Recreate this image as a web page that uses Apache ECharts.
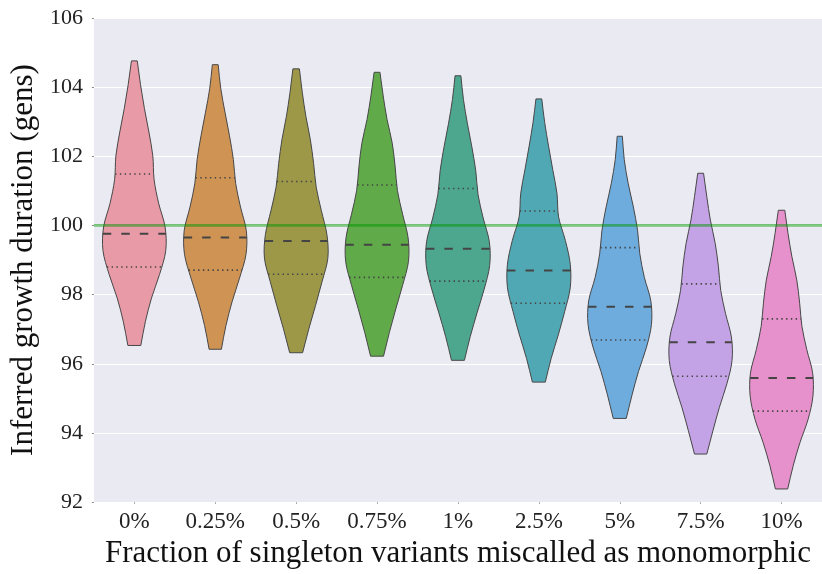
<!DOCTYPE html>
<html>
<head>
<meta charset="utf-8">
<script src="https://cdn.jsdelivr.net/npm/echarts@6/dist/echarts.min.js"></script>
<style>
  html, body { margin: 0; padding: 0; background: #ffffff; }
  #chart { width: 822px; height: 574px; }
</style>
</head>
<body>
<div id="chart"></div>
<script>
// ---- data ----
const categories = ['0%', '0.25%', '0.5%', '0.75%', '1%', '2.5%', '5%', '7.5%', '10%'];
const minVals    = [96.53, 96.42, 96.32, 96.22, 96.10, 95.47, 94.42, 93.39, 92.38];
const q1Vals     = [98.80, 98.71, 98.59, 98.50, 98.39, 97.75, 96.69, 95.64, 94.63];
const medianVals = [99.76, 99.65, 99.55, 99.44, 99.33, 98.70, 97.65, 96.62, 95.59];
const q3Vals     = [101.49, 101.38, 101.27, 101.17, 101.07, 100.42, 99.36, 98.31, 97.30];
const maxVals    = [104.76, 104.65, 104.53, 104.43, 104.33, 103.66, 102.58, 101.51, 100.44];
// relative half-widths of each violin, sampled evenly from its min (first) to its max (last)
const profile0   = [0.20, 0.34, 0.53, 0.78, 0.97, 0.95, 0.75, 0.61, 0.57, 0.45, 0.31, 0.19, 0.09];
const profile025 = [0.19, 0.33, 0.52, 0.75, 0.95, 0.96, 0.78, 0.63, 0.56, 0.44, 0.30, 0.17, 0.09];
const profile05  = [0.20, 0.39, 0.60, 0.80, 0.98, 0.95, 0.78, 0.62, 0.54, 0.44, 0.30, 0.19, 0.10];
const profile075 = [0.20, 0.38, 0.58, 0.79, 0.97, 0.96, 0.79, 0.63, 0.56, 0.47, 0.31, 0.19, 0.09];
const profile1   = [0.20, 0.38, 0.59, 0.81, 0.98, 0.97, 0.78, 0.62, 0.55, 0.43, 0.29, 0.17, 0.09];
const profile25  = [0.20, 0.38, 0.60, 0.80, 0.97, 0.97, 0.82, 0.61, 0.56, 0.43, 0.30, 0.18, 0.09];
const profile5   = [0.20, 0.38, 0.58, 0.82, 0.98, 0.96, 0.76, 0.62, 0.55, 0.42, 0.26, 0.14, 0.08];
const profile75  = [0.19, 0.38, 0.58, 0.81, 0.97, 0.95, 0.77, 0.62, 0.55, 0.45, 0.30, 0.19, 0.09];
const profile10  = [0.19, 0.36, 0.57, 0.82, 0.97, 0.96, 0.78, 0.63, 0.56, 0.47, 0.32, 0.20, 0.10];
const widthProfiles = [profile0, profile025, profile05, profile075, profile1, profile25, profile5, profile75, profile10];
const referenceValue = 100;
const yMin = 92, yMax = 106, yStep = 2;
const colors = ['#e89aa6', '#cf9454', '#9c9848', '#60aa4a', '#4ca78e', '#50a8b4', '#6eacde', '#c4a2e6', '#e690cc'];

// ---- helpers (rendering geometry only) ----
function crPoint(P, j) {
  const n = P.length;
  if (j < 0) return [2 * P[0][0] - P[1][0], 2 * P[0][1] - P[1][1]];
  if (j >= n) return [2 * P[n - 1][0] - P[n - 2][0], 2 * P[n - 1][1] - P[n - 2][1]];
  return P[j];
}
function crPath(P, start) {
  let d = start ? ('M' + P[0][0] + ',' + P[0][1]) : ('L' + P[0][0] + ',' + P[0][1]);
  for (let j = 0; j < P.length - 1; j++) {
    const p0 = crPoint(P, j - 1), p1 = P[j], p2 = P[j + 1], p3 = crPoint(P, j + 2);
    const c1 = [p1[0] + (p2[0] - p0[0]) / 6, p1[1] + (p2[1] - p0[1]) / 6];
    const c2 = [p2[0] - (p3[0] - p1[0]) / 6, p2[1] - (p3[1] - p1[1]) / 6];
    d += 'C' + c1[0] + ',' + c1[1] + ',' + c2[0] + ',' + c2[1] + ',' + p2[0] + ',' + p2[1];
  }
  return d;
}
function crEval(arr, t) {
  const n = arr.length;
  const get = (k) => k < 0 ? 2 * arr[0] - arr[1] : (k >= n ? 2 * arr[n - 1] - arr[n - 2] : arr[k]);
  let j = Math.floor(t);
  if (j >= n - 1) j = n - 2;
  if (j < 0) j = 0;
  const u = t - j;
  const a = get(j - 1), b = get(j), c = get(j + 1), e = get(j + 2);
  return 0.5 * (2 * b + (-a + c) * u + (2 * a - 5 * b + 4 * c - e) * u * u + (-a + 3 * b - 3 * c + e) * u * u * u);
}

const violinData = categories.map((c, i) => [i, minVals[i], q1Vals[i], medianVals[i], q3Vals[i], maxVals[i]]);

function renderViolin(params, api) {
  const i = api.value(0);
  const lo = api.value(1), q1 = api.value(2), med = api.value(3), q3 = api.value(4), hi = api.value(5);
  const prof = widthProfiles[i];
  const n = prof.length;
  const center = api.coord([i, lo])[0];
  const halfMax = api.size([1, 0])[0] * 0.4;
  const right = [], left = [];
  for (let k = 0; k < n; k++) {
    const v = lo + (hi - lo) * k / (n - 1);
    const y = api.coord([i, v])[1];
    right.push([center + prof[k] * halfMax, y]);
  }
  for (let k = n - 1; k >= 0; k--) {
    left.push([2 * center - right[k][0], right[k][1]]);
  }
  const pathData = crPath(right, true) + crPath(left, false) + 'Z';
  const children = [{
    type: 'path',
    shape: { pathData: pathData },
    style: { fill: colors[i], stroke: '#474747', lineWidth: 1 }
  }];
  function qLine(q, dash, lw) {
    const t = (q - lo) / (hi - lo) * (n - 1);
    const w = crEval(prof, t) * halfMax;
    const y = api.coord([i, q])[1];
    return {
      type: 'line',
      shape: { x1: center - w, y1: y, x2: center + w, y2: y },
      style: { stroke: '#444444', lineWidth: lw, lineDash: dash, lineCap: 'butt' }
    };
  }
  children.push(qLine(q1, [1.4, 3.4], 1.6));
  children.push(qLine(q3, [1.4, 3.4], 1.6));
  children.push(qLine(med, [8.5, 10], 2));
  return { type: 'group', children: children };
}

function renderRef(params, api) {
  const cs = params.coordSys;
  const y = api.coord([0, api.value(0)])[1];
  return {
    type: 'line',
    shape: { x1: cs.x, y1: y, x2: cs.x + cs.width, y2: y },
    style: { stroke: 'rgba(0,150,0,0.5)', lineWidth: 2.8 }
  };
}

const chart = echarts.init(document.getElementById('chart'), null, { renderer: 'canvas' });
chart.setOption({
  animation: false,
  backgroundColor: '#ffffff',
  grid: {
    left: 92, top: 18, width: 738, height: 487,
    show: true, backgroundColor: '#eaeaf2', borderWidth: 0
  },
  xAxis: {
    type: 'category',
    data: categories,
    boundaryGap: true,
    axisLine: { show: false },
    axisTick: { show: true, alignWithLabel: true, length: 2, lineStyle: { color: '#aaaaaa' } },
    axisLabel: { color: '#222222', fontFamily: 'Liberation Serif', fontSize: 23, margin: 8 },
    splitLine: { show: false },
    name: 'Fraction of singleton variants miscalled as monomorphic',
    nameLocation: 'middle',
    nameGap: 34,
    nameTextStyle: { color: '#111111', fontFamily: 'Liberation Serif', fontSize: 31 }
  },
  yAxis: {
    type: 'value',
    min: yMin, max: yMax, interval: yStep,
    axisLine: { show: false },
    axisTick: { show: true, length: 2, lineStyle: { color: '#888888' } },
    axisLabel: { color: '#222222', fontFamily: 'Liberation Serif', fontSize: 22, margin: 11 },
    splitLine: { show: true, lineStyle: { color: '#ffffff', width: 1.2 } },
    name: 'Inferred growth duration (gens)',
    nameLocation: 'middle',
    nameRotate: 90,
    nameGap: 51,
    nameTextStyle: { color: '#111111', fontFamily: 'Liberation Serif', fontSize: 31 }
  },
  series: [
    {
      type: 'custom',
      name: 'violins',
      renderItem: renderViolin,
      encode: { x: 0, y: [1, 2, 3, 4, 5] },
      data: violinData,
      z: 2
    },
    {
      type: 'custom',
      name: 'reference',
      renderItem: renderRef,
      encode: { y: 0 },
      data: [[referenceValue]],
      z: 3
    }
  ]
});
</script>
</body>
</html>
